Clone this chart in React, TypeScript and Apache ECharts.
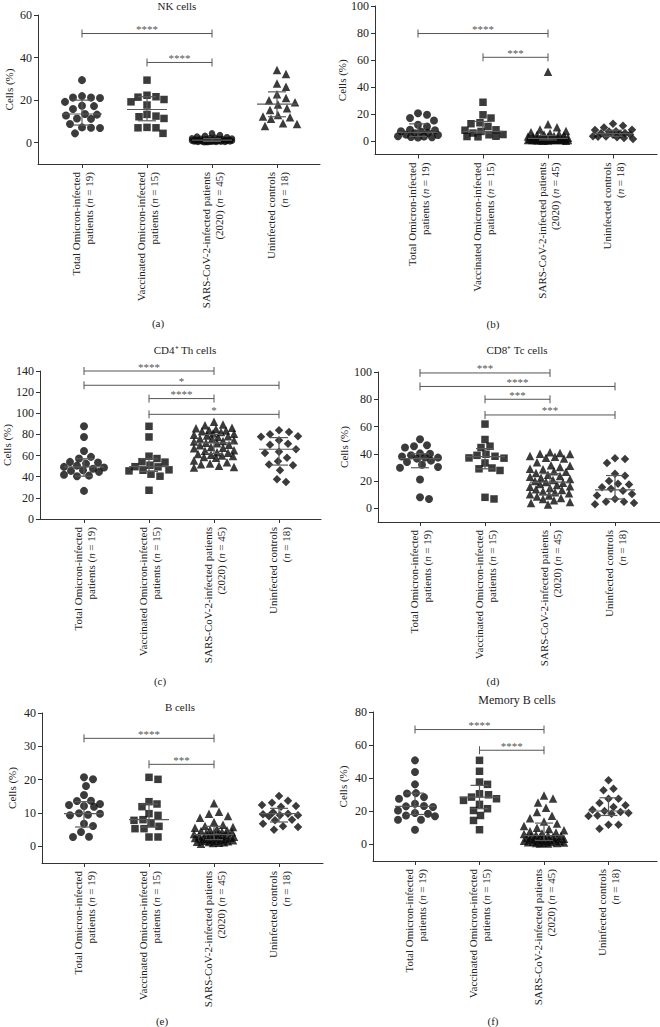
import React, { useEffect, useRef } from 'react';
import * as echarts from 'echarts';

const FONT = '"Liberation Serif", "Times New Roman", serif';

const categories = [
  'Total Omicron-infected\npatients ({i|n} = 19)',
  'Vaccinated Omicron-infected\npatients ({i|n} = 15)',
  'SARS-CoV-2-infected patients\n(2020) ({i|n} = 45)',
  'Uninfected controls\n({i|n} = 18)',
];

// (a) NK cells
const nkTicks = [0, 20, 40, 60];
const nkTotal = [29.4, 21.9, 21.2, 21.2, 21.0, 19.2, 17.4, 17.2, 15.8, 13.5, 13.2, 12.8, 11.4, 11.2, 8.8, 7.2, 7.0, 6.9, 4.4];
const nkVaccinated = [29.4, 22.3, 21.6, 21.4, 20.3, 19.2, 17.7, 13.3, 12.5, 12.2, 11.4, 7.2, 7.0, 7.0, 4.4];
const nkSars = [4.4, 3.6, 3.2, 2.9, 2.6, 2.4, 2.2, 2.1, 2.0, 1.9, 1.8, 1.7, 1.6, 1.5, 1.5, 1.4, 1.3, 1.3, 1.2, 1.2, 1.1, 1.1, 1.0, 1.0, 0.9, 0.9, 0.9, 0.8, 0.8, 0.8, 0.7, 0.7, 0.7, 0.6, 0.6, 0.6, 0.5, 0.5, 0.5, 0.4, 0.4, 0.4, 0.3, 0.3, 0.2];
const nkControls = [34.2, 32.3, 27.8, 26.3, 22.8, 21.0, 20.0, 19.0, 18.0, 16.2, 15.4, 13.0, 12.3, 12.0, 11.2, 9.2, 8.8, 7.8];
const nkMedian = [13.5, 15.6, 1.2, 18.1];
const nkLow = [8.3, 10.3, 0.6, 12.2];
const nkHigh = [20.0, 21.6, 2.0, 23.9];
const nkBrackets = [[0, 2, 51.3, '****'], [1, 2, 37.7, '****']];

// (b)
const bTicks = [0, 20, 40, 60, 80, 100];
const bTotal = [20.6, 19.4, 17.0, 15.2, 12.0, 10.8, 8.3, 8.0, 7.2, 7.0, 6.0, 5.8, 4.7, 4.5, 3.5, 3.3, 3.0, 2.8, 2.6];
const bVaccinated = [28.7, 19.4, 17.0, 13.5, 12.8, 10.8, 8.3, 8.0, 7.1, 5.9, 4.8, 4.6, 3.5, 3.3, 3.1];
const bSars = [51.3, 12.5, 10.2, 8.6, 7.4, 6.5, 5.8, 5.2, 4.8, 4.4, 4.0, 3.7, 3.4, 3.1, 2.9, 2.7, 2.5, 2.3, 2.1, 2.0, 1.9, 1.8, 1.7, 1.6, 1.5, 1.4, 1.3, 1.2, 1.1, 1.0, 1.0, 0.9, 0.9, 0.8, 0.8, 0.7, 0.7, 0.6, 0.6, 0.5, 0.5, 0.4, 0.4, 0.3, 0.2];
const bControls = [12.8, 11.3, 10.0, 8.3, 8.1, 7.2, 7.0, 6.0, 5.8, 5.2, 4.8, 4.6, 3.6, 3.4, 3.2, 2.8, 2.2, 1.5];
const bMedian = [6.4, 7.1, 2.0, 5.5];
const bLow = [3.4, 5.9, 0.8, 3.5];
const bHigh = [12.7, 14.5, 4.0, 8.0];
const bBrackets = [[0, 2, 79.6, '****'], [1, 2, 62.0, '***']];

// (c) CD4+ Th cells
const cd4Ticks = [0, 20, 40, 60, 80, 100, 120, 140];
const cd4Total = [87.7, 77.6, 64.4, 58.8, 57.2, 54.0, 53.5, 52.4, 50.5, 49.3, 48.7, 47.5, 46.1, 45.5, 44.6, 41.8, 41.0, 40.5, 26.6];
const cd4Vaccinated = [87.7, 77.6, 59.4, 57.2, 54.2, 53.8, 50.9, 49.5, 49.3, 46.5, 46.1, 45.5, 42.4, 40.5, 27.2];
const cd4Sars = [92.1, 89.4, 88.7, 86.2, 85.8, 85.1, 84.3, 83.6, 82.9, 82.4, 81.2, 80.7, 79.8, 79.1, 78.3, 77.6, 76.1, 75.8, 74.4, 73.9, 73.2, 72.1, 71.6, 70.3, 69.8, 68.2, 67.5, 66.9, 65.1, 64.6, 63.2, 62.7, 61.4, 60.8, 60.1, 59.6, 58.7, 57.9, 55.3, 53.8, 52.6, 51.9, 50.4, 49.2, 48.6];
const cd4Controls = [84.0, 82.4, 80.2, 78.2, 77.8, 74.5, 71.3, 70.3, 66.0, 63.5, 62.5, 58.0, 54.7, 51.5, 50.9, 46.1, 37.6, 35.1];
const cd4Median = [49.3, 49.5, 72.0, 66.0];
const cd4Low = [40.5, 45.0, 62.0, 51.0];
const cd4High = [57.0, 57.0, 80.0, 77.0];
const cd4Brackets = [[0, 2, 140, '****'], [0, 3, 126.5, '*'], [1, 2, 113.9, '****'], [1, 3, 99, '*']];

// (d) CD8+ Tc cells
const cd8Ticks = [0, 20, 40, 60, 80, 100];
const cd8Total = [50.7, 46.3, 45.6, 44.6, 40.3, 40.1, 38.9, 38.0, 37.2, 37.2, 36.5, 35.0, 34.0, 32.0, 30.3, 29.8, 21.2, 8.1, 6.9];
const cd8Vaccinated = [61.8, 50.5, 45.6, 44.6, 39.7, 38.9, 38.2, 37.0, 36.8, 33.3, 29.6, 29.0, 27.8, 8.1, 6.9];
const cd8Sars = [41.2, 40.6, 40.1, 39.8, 38.4, 37.9, 37.2, 36.5, 33.8, 31.7, 31.2, 30.4, 29.1, 28.6, 27.3, 26.8, 25.9, 24.7, 23.8, 23.1, 22.4, 21.6, 20.8, 20.1, 19.4, 18.7, 17.9, 17.2, 16.3, 15.8, 14.9, 14.1, 13.4, 12.6, 11.8, 11.1, 10.3, 9.4, 8.7, 7.6, 6.8, 5.9, 4.7, 3.9, 2.8];
const cd8Controls = [36.8, 36.2, 33.3, 25.4, 23.9, 20.0, 18.0, 17.5, 15.5, 14.3, 13.0, 10.6, 9.5, 6.9, 4.9, 4.9, 3.9, 3.0];
const cd8Median = [36.5, 38.0, 19.2, 13.5];
const cd8Low = [29.8, 29.0, 10.0, 6.9];
const cd8High = [40.0, 43.8, 25.4, 24.1];
const cd8Brackets = [[0, 2, 99.3, '***'], [0, 3, 89.4, '****'], [1, 2, 80.0, '***'], [1, 3, 68.5, '***']];

// (e) B cells
const bcTicks = [0, 10, 20, 30, 40];
const bcTotal = [20.7, 20.1, 18.1, 15.4, 13.7, 13.6, 12.7, 12.4, 12.1, 11.9, 9.9, 9.8, 9.5, 9.3, 6.8, 6.1, 4.3, 2.9, 2.8];
const bcVaccinated = [20.7, 20.1, 13.4, 12.7, 11.9, 9.8, 9.3, 8.0, 7.8, 6.8, 6.0, 5.3, 5.3, 2.8, 2.8];
const bcSars = [12.9, 10.4, 9.8, 9.1, 8.6, 7.3, 6.5, 6.1, 5.8, 5.6, 5.3, 5.0, 4.8, 4.6, 4.4, 4.2, 4.0, 3.9, 3.7, 3.6, 3.4, 3.3, 3.1, 3.0, 2.9, 2.8, 2.7, 2.6, 2.5, 2.4, 2.3, 2.2, 2.1, 2.0, 1.9, 1.8, 1.7, 1.6, 1.5, 1.4, 1.3, 1.2, 1.1, 1.0, 0.8];
const bcControls = [15.1, 13.7, 13.1, 12.4, 12.1, 11.9, 10.2, 9.8, 9.6, 9.3, 9.3, 9.0, 8.0, 7.8, 6.8, 6.0, 5.8, 5.0];
const bcMedian = [9.8, 8.0, 3.5, 9.8];
const bcLow = [5.8, 5.8, 2.0, 7.3];
const bcHigh = [13.4, 12.7, 6.0, 11.4];
const bcBrackets = [[0, 2, 32.4, '****'], [1, 2, 24.6, '***']];

// (f) Memory B cells
const mbTicks = [0, 20, 40, 60, 80];
const mbTotal = [50.8, 43.8, 36.3, 31.0, 30.8, 28.6, 27.6, 24.6, 23.2, 23.0, 22.6, 20.5, 19.0, 18.5, 17.5, 17.0, 14.9, 14.9, 8.9];
const mbVaccinated = [50.8, 44.2, 37.7, 36.3, 30.6, 30.0, 28.6, 27.6, 26.6, 24.2, 21.6, 20.5, 17.5, 14.5, 8.9];
const mbSars = [29.6, 27.8, 25.3, 22.1, 19.6, 17.4, 15.8, 13.9, 12.6, 11.2, 10.1, 9.3, 8.6, 7.9, 7.2, 6.8, 6.3, 5.9, 5.6, 5.3, 5.0, 4.7, 4.5, 4.3, 4.0, 3.8, 3.6, 3.4, 3.2, 3.0, 2.8, 2.6, 2.4, 2.2, 2.0, 1.9, 1.7, 1.5, 1.3, 1.2, 1.0, 0.9, 0.8, 0.6, 0.5];
const mbControls = [38.7, 33.7, 32.7, 27.6, 27.6, 25.0, 23.6, 22.6, 21.0, 20.2, 19.6, 19.0, 18.5, 17.5, 17.2, 11.9, 11.9, 9.5];
const mbMedian = [23.0, 28.6, 5.4, 20.2];
const mbLow = [18.1, 21.6, 2.4, 17.5];
const mbHigh = [31.0, 35.7, 12.9, 28.2];
const mbBrackets = [[0, 2, 69.4, '****'], [1, 2, 56.9, '****']];

const SYM4 = ['circle', 'rect', 'triangle', 'diamond'];
const SIZE4 = [8, 7.5, 8.5, 8.5];

const panels = [
  { groups: [nkTotal, nkVaccinated, nkSars, nkControls], med: nkMedian, lo: nkLow, hi: nkHigh, brackets: nkBrackets, ticks: nkTicks, yMin: -10, yMax: 60, left: 38, top: 15, width: 282, height: 149, g0: 82, sp: 65, symbols: ['circle', 'rect', 'circle', 'triangle'], sizes: [8, 7.5, 6.5, 8.5], nameGap: 24 },
  { groups: [bTotal, bVaccinated, bSars, bControls], med: bMedian, lo: bLow, hi: bHigh, brackets: bBrackets, ticks: bTicks, yMin: -10, yMax: 100, left: 375, top: 6, width: 282, height: 148.5, g0: 418, sp: 65, symbols: SYM4, sizes: SIZE4, nameGap: 28 },
  { groups: [cd4Total, cd4Vaccinated, cd4Sars, cd4Controls], med: cd4Median, lo: cd4Low, hi: cd4High, brackets: cd4Brackets, ticks: cd4Ticks, yMin: 0, yMax: 140, left: 40, top: 371, width: 281, height: 148, g0: 84, sp: 65, symbols: SYM4, sizes: SIZE4, nameGap: 28 },
  { groups: [cd8Total, cd8Vaccinated, cd8Sars, cd8Controls], med: cd8Median, lo: cd8Low, hi: cd8High, brackets: cd8Brackets, ticks: cd8Ticks, yMin: -10, yMax: 100, left: 378, top: 372, width: 282, height: 150, g0: 420, sp: 65, symbols: SYM4, sizes: SIZE4, nameGap: 29 },
  { groups: [bcTotal, bcVaccinated, bcSars, bcControls], med: bcMedian, lo: bcLow, hi: bcHigh, brackets: bcBrackets, ticks: bcTicks, yMin: -5, yMax: 40, left: 42, top: 713, width: 281, height: 150, g0: 84, sp: 65, symbols: SYM4, sizes: SIZE4, nameGap: 25 },
  { groups: [mbTotal, mbVaccinated, mbSars, mbControls], med: mbMedian, lo: mbLow, hi: mbHigh, brackets: mbBrackets, ticks: mbTicks, yMin: -10, yMax: 80, left: 373, top: 712, width: 284, height: 149, g0: 415, sp: 64.5, symbols: SYM4, sizes: SIZE4, nameGap: 25 },
];

const texts = [
  { t: 'NK cells', x: 177, y: 6, s: 11 },
  { t: 'CD4\u207A Th cells', x: 185, y: 350, s: 11 },
  { t: 'CD8\u207A Tc cells', x: 517, y: 350, s: 11 },
  { t: 'B cells', x: 180, y: 707, s: 11 },
  { t: 'Memory B cells', x: 517, y: 700, s: 12 },
  { t: '(a)', x: 158, y: 323, s: 11 },
  { t: '(b)', x: 493, y: 324, s: 11 },
  { t: '(c)', x: 160, y: 681, s: 11 },
  { t: '(d)', x: 493, y: 681, s: 11 },
  { t: '(e)', x: 162, y: 1021, s: 11 },
  { t: '(f)', x: 493, y: 1021, s: 11 },
];

// beeswarm layout (pixel offsets) computed from values
function swarm(values: number[], pxPerUnit: number, sep: number, maxHalf: number): number[] {
  const idx = values.map((_, i) => i).sort((a, b) => values[b] - values[a]);
  const placed: [number, number][] = [];
  const out = new Array(values.length).fill(0);
  const cands: number[] = [0];
  for (let k = 1; k <= maxHalf; k++) cands.push(k, -k);
  for (const i of idx) {
    const y = values[i] * pxPerUnit;
    let chosen: number | null = null;
    for (const c of cands) {
      let ok = true;
      for (const [px, py] of placed) {
        if (Math.hypot(px - c, py - y) < sep) { ok = false; break; }
      }
      if (ok) { chosen = c; break; }
    }
    if (chosen === null) {
      let best = -Infinity;
      for (const c of cands) {
        let md = Infinity;
        for (const [px, py] of placed) md = Math.min(md, Math.hypot(px - c, py - y));
        const s = md - 0.03 * Math.abs(c);
        if (s > best) { best = s; chosen = c; }
      }
    }
    out[i] = chosen as number;
    placed.push([chosen as number, y]);
  }
  return out;
}

function buildOption() {
  const grid: any[] = [];
  const xAxis: any[] = [];
  const yAxis: any[] = [];
  const series: any[] = [];
  panels.forEach((p, pi) => {
    grid.push({ left: p.left, top: p.top, width: p.width, height: p.height });
    xAxis.push({
      type: 'value', gridIndex: pi,
      min: (p.left - p.g0) / p.sp, max: (p.left + p.width - p.g0) / p.sp,
      splitLine: { show: false },
      axisLine: { show: true, onZero: false, lineStyle: { color: '#333', width: 1 } },
      axisTick: { show: true, customValues: [0, 1, 2, 3], length: 4, lineStyle: { color: '#333' } },
      axisLabel: {
        show: true, customValues: [0, 1, 2, 3], rotate: 90, margin: 8,
        formatter: (v: number) => categories[Math.round(v)] ?? '',
        fontFamily: FONT, fontSize: 11, color: '#222', lineHeight: 13,
        rich: { i: { fontStyle: 'italic', fontFamily: FONT, fontSize: 11, color: '#222', lineHeight: 13 } },
      },
    });
    yAxis.push({
      type: 'value', gridIndex: pi, min: p.yMin, max: p.yMax,
      splitLine: { show: false },
      axisLine: { show: true, onZero: false, lineStyle: { color: '#333', width: 1 } },
      axisTick: { show: true, customValues: p.ticks, length: 4, lineStyle: { color: '#333' } },
      axisLabel: { customValues: p.ticks, fontFamily: FONT, fontSize: 12, color: '#222', margin: 6 },
      name: 'Cells (%)', nameLocation: 'middle', nameGap: p.nameGap,
      nameTextStyle: { fontFamily: FONT, fontSize: 11, color: '#222' },
    });
    const ppu = p.height / (p.yMax - p.yMin);
    p.groups.forEach((vals, g) => {
      const offs = swarm(vals, ppu, p.sizes[g] + 0.8, 20);
      series.push({
        type: 'scatter', xAxisIndex: pi, yAxisIndex: pi, silent: true, z: 2,
        symbol: p.symbols[g], symbolSize: p.sizes[g],
        itemStyle: { color: '#0a0a0a' },
        data: vals.map((v, k) => [g + offs[k] / p.sp, v]),
      });
    });
    series.push({
      type: 'custom', xAxisIndex: pi, yAxisIndex: pi, z: 5, silent: true,
      data: p.med.map((m, g) => [g, m, p.lo[g], p.hi[g]]),
      renderItem: (params: any, api: any) => {
        const g = api.value(0);
        const pm = api.coord([g, api.value(1)]);
        const pl = api.coord([g, api.value(2)]);
        const ph = api.coord([g, api.value(3)]);
        const st = { stroke: '#5a5a5a', lineWidth: 1.2 };
        return {
          type: 'group', children: [
            { type: 'line', shape: { x1: pm[0] - 20, y1: pm[1], x2: pm[0] + 20, y2: pm[1] }, style: st },
            { type: 'line', shape: { x1: pl[0], y1: pl[1], x2: ph[0], y2: ph[1] }, style: st },
            { type: 'line', shape: { x1: pl[0] - 9, y1: pl[1], x2: pl[0] + 9, y2: pl[1] }, style: st },
            { type: 'line', shape: { x1: ph[0] - 9, y1: ph[1], x2: ph[0] + 9, y2: ph[1] }, style: st },
          ],
        };
      },
    });
    series.push({
      type: 'custom', xAxisIndex: pi, yAxisIndex: pi, z: 6, silent: true,
      data: p.brackets.map((b) => [b[0], b[1], b[2]]),
      renderItem: (params: any, api: any) => {
        const a = api.coord([api.value(0), api.value(2)]);
        const b = api.coord([api.value(1), api.value(2)]);
        const label = String(p.brackets[params.dataIndex][3]);
        const st = { stroke: '#555', lineWidth: 1 };
        return {
          type: 'group', children: [
            { type: 'line', shape: { x1: a[0], y1: a[1], x2: b[0], y2: b[1] }, style: st },
            { type: 'line', shape: { x1: a[0], y1: a[1] - 4, x2: a[0], y2: a[1] + 4 }, style: st },
            { type: 'line', shape: { x1: b[0], y1: b[1] - 4, x2: b[0], y2: b[1] + 4 }, style: st },
            { type: 'text', style: { text: label, x: (a[0] + b[0]) / 2, y: a[1] + 1, align: 'center', verticalAlign: 'bottom', fill: '#555', font: `11px ${FONT}` } },
          ],
        };
      },
    });
  });
  const graphic = texts.map((t) => ({
    type: 'text', x: t.x, y: t.y, silent: true,
    style: { text: t.t, fill: '#222', font: `${t.s}px ${FONT}`, align: 'center', verticalAlign: 'middle' },
  }));
  return { animation: false, backgroundColor: '#fff', grid, xAxis, yAxis, series, graphic };
}

export default function App() {
  const ref = useRef<HTMLDivElement>(null);
  useEffect(() => {
    if (!ref.current) return;
    const chart = echarts.init(ref.current, undefined, { renderer: 'svg' });
    chart.setOption(buildOption() as any);
    return () => chart.dispose();
  }, []);
  return <div ref={ref} style={{ position: 'absolute', left: 0, top: 0, width: 660, height: 1027, background: '#fff' }} />;
}
